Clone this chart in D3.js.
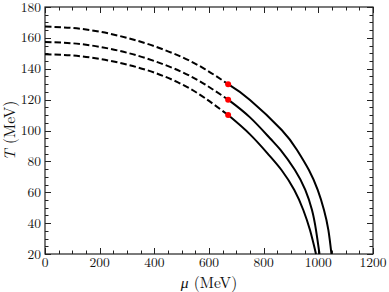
<!DOCTYPE html>
<html>
<head>
<meta charset="utf-8">
<script src="https://cdn.jsdelivr.net/npm/d3@7"></script>
<style>
  html, body { margin: 0; padding: 0; background: #fff; }
  svg { display: block; }
</style>
</head>
<body>
<div id="chart"></div>
<script>
// tick values
const muTicks = [0, 200, 400, 600, 800, 1000, 1200];
const tTicks = [20, 40, 60, 80, 100, 120, 140, 160, 180];

// critical end points (red dots)
const pointMu = [670, 670, 670];
const pointT = [130, 120, 110];

// dashed branches (crossover), [mu, T]
const dashTop = [[0, 167.3], [100, 166.4], [200, 164.0], [300, 160.0], [400, 154.6], [500, 147.6], [585, 139.8], [670, 130]];
const dashMid = [[0, 157.3], [100, 156.5], [200, 154.2], [300, 150.4], [400, 145.0], [500, 138.0], [585, 129.9], [670, 120]];
const dashBot = [[0, 149.4], [100, 148.6], [200, 146.4], [300, 142.7], [400, 137.5], [500, 130.0], [585, 121.0], [670, 110]];

// solid branches (first order), [mu, T]
const solidTop = [[670, 130], [750, 119.8], [866, 100.3], [922, 87.4], [965.5, 74.4], [997.7, 61.5], [1020.7, 48.5], [1036.8, 35.5], [1048, 20]];
const solidMid = [[670, 120], [750, 108.5], [823, 95], [861.6, 87.4], [914.3, 74.4], [952.3, 61.5], [976.8, 48.5], [991.5, 35.5], [1004.3, 20]];
const solidBot = [[670, 110], [750, 97.5], [819.5, 84.1], [865.2, 74.4], [912.1, 61.5], [945, 48.5], [969.5, 35.5], [991.5, 20]];

const FONT = "Latin Modern Roman";
const INK = "#111";

function draw() {
    const width = 389, height = 292;
    const margin = { left: 45, right: 16, top: 7, bottom: 38 };

    const svg = d3.select("#chart").append("svg")
        .attr("width", width).attr("height", height)
        .attr("font-family", FONT);

    const x = d3.scaleLinear().domain([0, 1200]).range([margin.left, width - margin.right]);
    const y = d3.scaleLinear().domain([20, 180]).range([height - margin.bottom, margin.top]);

    const x0 = x.range()[0], x1 = x.range()[1];
    const y0 = y.range()[0], y1 = y.range()[1];

    // ticks (inward, on all four sides)
    const ticks = svg.append("g").attr("stroke", "#222").attr("stroke-width", 1);
    d3.range(0, 1201, 50).forEach(v => {
        const len = v % 200 === 0 ? 6 : 3.5;
        const px = Math.round(x(v)) + 0.5;
        ticks.append("line").attr("x1", px).attr("x2", px).attr("y1", y0).attr("y2", y0 - len);
        ticks.append("line").attr("x1", px).attr("x2", px).attr("y1", y1).attr("y2", y1 + len);
    });
    d3.range(20, 181, 5).forEach(v => {
        const len = v % 20 === 0 ? 6 : 3.5;
        const py = Math.round(y(v)) + 0.5;
        ticks.append("line").attr("x1", x0).attr("x2", x0 + len).attr("y1", py).attr("y2", py);
        ticks.append("line").attr("x1", x1).attr("x2", x1 - len).attr("y1", py).attr("y2", py);
    });

    // frame
    svg.append("rect")
        .attr("x", x0).attr("y", y1)
        .attr("width", x1 - x0).attr("height", y0 - y1)
        .attr("fill", "none").attr("stroke", "#222").attr("stroke-width", 1.2);

    // tick labels
    svg.selectAll("text.xt").data(muTicks).enter().append("text")
        .attr("class", "xt")
        .attr("x", d => x(d)).attr("y", y0 + 12.5)
        .attr("text-anchor", "middle")
        .attr("font-family", FONT).attr("font-size", 13.5).attr("fill", INK)
        .text(d => d);

    svg.selectAll("text.yt").data(tTicks).enter().append("text")
        .attr("class", "yt")
        .attr("x", x0 - 4).attr("y", d => y(d) + 4.5)
        .attr("text-anchor", "end")
        .attr("font-family", FONT).attr("font-size", 13.5).attr("fill", INK)
        .text(d => d);

    // axis titles
    const xt = svg.append("text")
        .attr("x", (x0 + x1) / 2).attr("y", 288)
        .attr("text-anchor", "middle")
        .attr("font-family", FONT).attr("font-size", 15.5).attr("fill", INK);
    xt.append("tspan").attr("font-style", "italic").text("μ");
    xt.append("tspan").text(" (MeV)");

    const yt = svg.append("text")
        .attr("transform", `translate(14.5,${(y0 + y1) / 2}) rotate(-90)`)
        .attr("text-anchor", "middle")
        .attr("font-family", FONT).attr("font-size", 15.5).attr("fill", INK);
    yt.append("tspan").attr("font-style", "italic").text("T");
    yt.append("tspan").text(" (MeV)");

    // curves
    const line = d3.line()
        .x(d => x(d[0])).y(d => y(d[1]))
        .curve(d3.curveNatural);

    const plot = svg.append("g");

    [dashTop, dashMid, dashBot].forEach(c => {
        plot.append("path").attr("d", line(c))
            .attr("fill", "none").attr("stroke", "#000")
            .attr("stroke-width", 2).attr("stroke-dasharray", "6.5,3");
    });

    [solidTop, solidMid, solidBot].forEach(c => {
        plot.append("path").attr("d", line(c))
            .attr("fill", "none").attr("stroke", "#000")
            .attr("stroke-width", 2);
    });

    // red points
    plot.selectAll("circle").data(pointMu).enter().append("circle")
        .attr("cx", d => x(d)).attr("cy", (d, i) => y(pointT[i]))
        .attr("r", 3).attr("fill", "#f00");
}

draw();
</script>
</body>
</html>
